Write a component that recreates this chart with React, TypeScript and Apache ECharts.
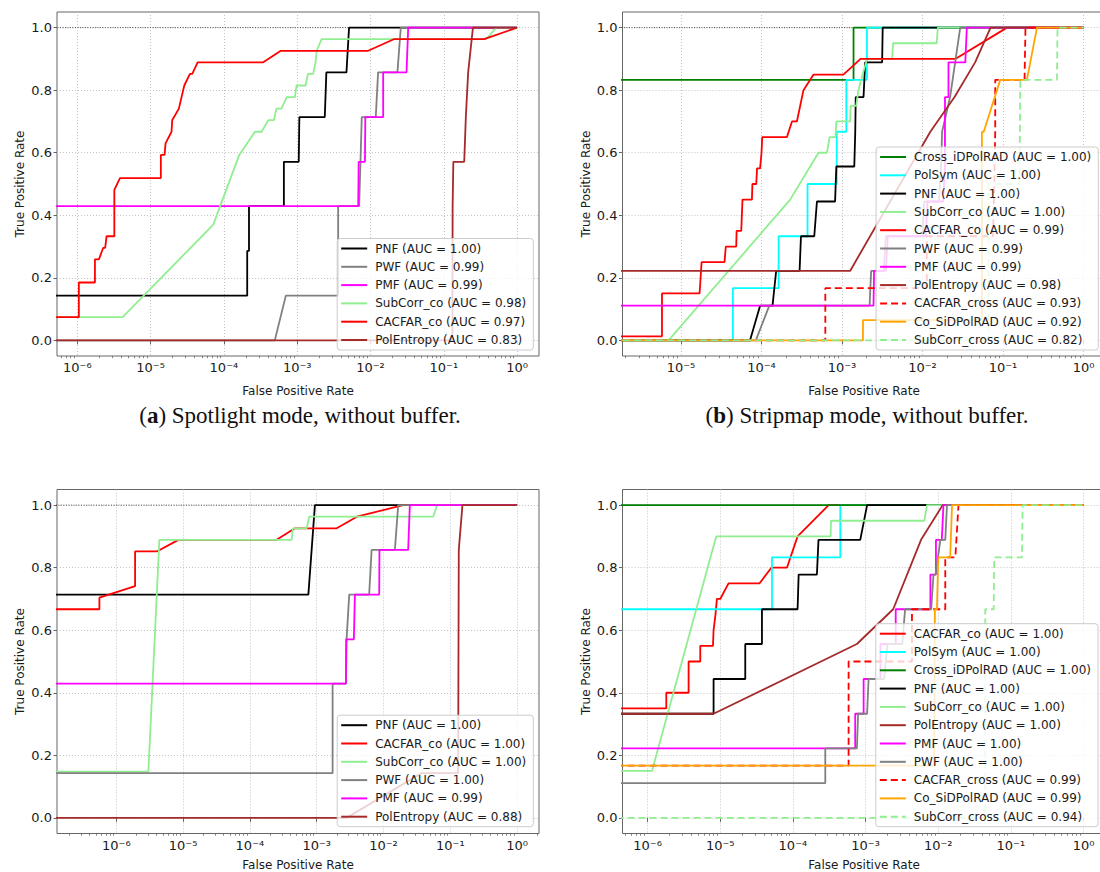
import React, { useEffect, useRef } from 'react';
import * as echarts from 'echarts';

// FPR = 0 cannot sit on a log axis: like matplotlib, it is placed far left and clipped.
const Z = 1e-9;

// ---------- Panel (a): Spotlight mode, without buffer ----------
const A_NAMES = ['PNF', 'PWF', 'PMF', 'SubCorr_co', 'CACFAR_co', 'PolEntropy'];
const A_AUC = ['1.00', '0.99', '0.99', '0.98', '0.97', '0.83'];
const aPNF = [[Z, 0.143], [2.08e-4, 0.143], [2.08e-4, 0.286], [2.2e-4, 0.286], [2.2e-4, 0.429], [6.58e-4, 0.429], [6.58e-4, 0.571], [1.05e-3, 0.571], [1.07e-3, 0.714], [2.38e-3, 0.714], [2.5e-3, 0.857], [4.7e-3, 0.857], [5.1e-3, 1], [1, 1]];
const aPWF = [[Z, 0], [4.95e-4, 0], [7e-4, 0.143], [3.62e-3, 0.143], [3.62e-3, 0.429], [7.0e-3, 0.429], [7.3e-3, 0.571], [7.6e-3, 0.714], [0.0118, 0.714], [0.0127, 0.857], [0.0233, 0.857], [0.0259, 1], [1, 1]];
const aPMF = [[Z, 0.429], [6.8e-3, 0.429], [6.9e-3, 0.571], [8.4e-3, 0.571], [8.5e-3, 0.714], [0.0149, 0.714], [0.0149, 0.857], [0.031, 0.857], [0.0327, 1], [1, 1]];
const aSubCorrCo = [[Z, 0.074], [4.15e-6, 0.074], [7.16e-5, 0.37], [1.62e-4, 0.593], [2.65e-4, 0.667], [3.27e-4, 0.667], [4.03e-4, 0.704], [4.8e-4, 0.704], [5.2e-4, 0.741], [6.1e-4, 0.741], [7.2e-4, 0.778], [9.3e-4, 0.778], [9.8e-4, 0.815], [1.3e-3, 0.815], [1.4e-3, 0.852], [1.65e-3, 0.852], [1.78e-3, 0.889], [1.85e-3, 0.926], [2.15e-3, 0.963], [0.38, 0.963], [0.52, 1], [1, 1]];
const aCACFARco = [[Z, 0.074], [1.05e-6, 0.074], [1.05e-6, 0.185], [1.74e-6, 0.185], [1.74e-6, 0.259], [1.97e-6, 0.259], [2.26e-6, 0.296], [2.4e-6, 0.296], [2.51e-6, 0.333], [3.2e-6, 0.333], [3.2e-6, 0.481], [3.82e-6, 0.519], [1.38e-5, 0.519], [1.38e-5, 0.593], [1.55e-5, 0.593], [1.6e-5, 0.63], [1.93e-5, 0.667], [1.97e-5, 0.704], [2.43e-5, 0.741], [2.88e-5, 0.815], [3.44e-5, 0.852], [3.7e-5, 0.852], [4.38e-5, 0.889], [3.44e-4, 0.889], [5.98e-4, 0.926], [9.29e-3, 0.926], [0.0208, 0.963], [0.355, 0.963], [1, 1]];
const aPolEntropy = [[Z, 0], [0.131, 0], [0.132, 0.429], [0.135, 0.571], [0.19, 0.571], [0.2, 0.714], [0.215, 0.857], [0.25, 1], [1, 1]];
const A_CURVES = [aPNF, aPWF, aPMF, aSubCorrCo, aCACFARco, aPolEntropy];

// ---------- Panel (b): Stripmap mode, without buffer ----------
const B_NAMES = ['Cross_iDPolRAD', 'PolSym', 'PNF', 'SubCorr_co', 'CACFAR_co', 'PWF', 'PMF', 'PolEntropy', 'CACFAR_cross', 'Co_SiDPolRAD', 'SubCorr_cross'];
const B_AUC = ['1.00', '1.00', '1.00', '1.00', '0.99', '0.99', '0.99', '0.98', '0.93', '0.92', '0.82'];
const bCross = [[Z, 0.833], [1.39e-3, 0.833], [1.39e-3, 1], [1, 1]];
const bPolSym = [[Z, 0], [4.41e-5, 0], [4.41e-5, 0.167], [1.63e-4, 0.167], [1.63e-4, 0.333], [3.73e-4, 0.333], [3.73e-4, 0.5], [8.6e-4, 0.5], [8.6e-4, 0.667], [1.13e-3, 0.667], [1.13e-3, 0.833], [2.04e-3, 0.833], [2.04e-3, 1], [1, 1]];
const bPNF = [[Z, 0], [7.2e-5, 0], [9.6e-5, 0.111], [1.37e-4, 0.111], [1.52e-4, 0.222], [2.97e-4, 0.222], [3.09e-4, 0.333], [4.52e-4, 0.333], [4.88e-4, 0.444], [8.2e-4, 0.444], [8.5e-4, 0.556], [1.42e-3, 0.556], [1.46e-3, 0.667], [1.48e-3, 0.778], [1.85e-3, 0.778], [1.94e-3, 0.889], [3.15e-3, 0.889], [3.2e-3, 1], [1, 1]];
const bSubCorrCo = [[Z, 0], [7e-6, 0], [2.27e-4, 0.45], [5.1e-4, 0.6], [6.5e-4, 0.6], [7e-4, 0.65], [8.3e-4, 0.65], [8.5e-4, 0.7], [1.26e-3, 0.7], [1.28e-3, 0.75], [1.5e-3, 0.75], [1.6e-3, 0.8], [1.8e-3, 0.85], [2.05e-3, 0.9], [4.2e-3, 0.9], [4.3e-3, 0.95], [0.015, 0.95], [0.0155, 1], [1, 1]];
const bCACFARco = [[Z, 0.013], [5.8e-6, 0.013], [5.8e-6, 0.15], [1.7e-5, 0.15], [1.75e-5, 0.2], [1.8e-5, 0.25], [3.47e-5, 0.25], [3.6e-5, 0.3], [4.85e-5, 0.3], [4.9e-5, 0.35], [5.6e-5, 0.35], [5.8e-5, 0.45], [7.6e-5, 0.45], [7.7e-5, 0.5], [8.6e-5, 0.5], [8.8e-5, 0.55], [9.6e-5, 0.55], [1.0e-4, 0.6], [1.02e-4, 0.65], [2.07e-4, 0.65], [2.39e-4, 0.7], [2.75e-4, 0.7], [3.32e-4, 0.8], [4.43e-4, 0.85], [1.04e-3, 0.85], [1.7e-3, 0.9], [0.0255, 0.9], [0.112, 1], [1, 1]];
const bPWF = [[Z, 0], [8.5e-5, 0], [1.25e-4, 0.111], [2.2e-3, 0.111], [2.3e-3, 0.222], [3.3e-3, 0.222], [3.5e-3, 0.333], [1.0e-2, 0.333], [1.05e-2, 0.444], [1.6e-2, 0.444], [1.7e-2, 0.556], [1.75e-2, 0.667], [2.2e-2, 0.778], [2.94e-2, 1], [1, 1]];
const bPMF = [[Z, 0.111], [2.46e-3, 0.111], [2.5e-3, 0.222], [3.5e-3, 0.222], [3.7e-3, 0.333], [1.1e-2, 0.333], [1.15e-2, 0.444], [1.8e-2, 0.444], [1.9e-2, 0.556], [1.9e-2, 0.778], [2.1e-2, 0.778], [2.1e-2, 0.889], [3.4e-2, 0.889], [3.55e-2, 1], [1, 1]];
const bPolEntropy = [[Z, 0.222], [1.26e-3, 0.222], [0.0125, 0.667], [0.025, 0.778], [0.045, 0.889], [0.07, 1], [1, 1]];
const bCACFARcross = [[Z, 0], [6.2e-4, 0], [6.2e-4, 0.167], [0.0113, 0.167], [0.0113, 0.333], [0.075, 0.333], [0.078, 0.5], [0.08, 0.667], [0.08, 0.833], [0.185, 0.833], [0.19, 1], [1, 1]];
const bCoSiDPolRAD = [[Z, 0], [1.82e-3, 0], [1.82e-3, 0.065], [0.0547, 0.065], [0.0547, 0.667], [0.0576, 0.667], [0.0923, 0.833], [0.198, 0.833], [0.264, 1], [1, 1]];
const bSubCorrCross = [[Z, 0], [0.066, 0], [0.066, 0.5], [0.16, 0.5], [0.164, 0.833], [0.468, 0.833], [0.475, 1], [1, 1]];
const B_CURVES = [bCross, bPolSym, bPNF, bSubCorrCo, bCACFARco, bPWF, bPMF, bPolEntropy, bCACFARcross, bCoSiDPolRAD, bSubCorrCross];

// ---------- Panel (c): Spotlight mode, with buffer ----------
const C_NAMES = ['PNF', 'CACFAR_co', 'SubCorr_co', 'PWF', 'PMF', 'PolEntropy'];
const C_AUC = ['1.00', '1.00', '1.00', '1.00', '0.99', '0.88'];
const cPNF = [[Z, 0.714], [7.5e-4, 0.714], [9.4e-4, 1], [1, 1]];
const cCACFARco = [[Z, 0.667], [5.58e-7, 0.667], [5.58e-7, 0.704], [1.91e-6, 0.741], [1.91e-6, 0.852], [4.04e-6, 0.852], [8.5e-6, 0.889], [2.51e-4, 0.889], [4.73e-4, 0.926], [1.99e-3, 0.926], [4.0e-3, 0.963], [0.0197, 1], [1, 1]];
const cSubCorrCo = [[Z, 0.148], [3.02e-6, 0.148], [4.41e-6, 0.889], [4.22e-4, 0.889], [4.4e-4, 0.926], [7.08e-4, 0.926], [7.74e-4, 0.963], [0.0554, 0.963], [0.0636, 1], [1, 1]];
const cPWF = [[Z, 0.143], [1.73e-3, 0.143], [1.73e-3, 0.429], [2.74e-3, 0.429], [2.8e-3, 0.571], [3.07e-3, 0.714], [6.1e-3, 0.714], [6.64e-3, 0.857], [0.0148, 0.857], [0.0166, 1], [1, 1]];
const cPMF = [[Z, 0.429], [2.74e-3, 0.429], [2.76e-3, 0.571], [3.6e-3, 0.571], [3.73e-3, 0.714], [8.63e-3, 0.714], [8.7e-3, 0.857], [0.0234, 0.857], [0.0248, 1], [1, 1]];
const cPolEntropy = [[Z, 0], [2.8e-3, 0], [0.037, 0.143], [0.131, 0.143], [0.134, 0.857], [0.152, 1], [1, 1]];
const C_CURVES = [cPNF, cCACFARco, cSubCorrCo, cPWF, cPMF, cPolEntropy];

// ---------- Panel (d): Stripmap mode, with buffer ----------
const D_NAMES = ['CACFAR_co', 'PolSym', 'Cross_iDPolRAD', 'PNF', 'SubCorr_co', 'PolEntropy', 'PMF', 'PWF', 'CACFAR_cross', 'Co_SiDPolRAD', 'SubCorr_cross'];
const D_AUC = ['1.00', '1.00', '1.00', '1.00', '1.00', '1.00', '1.00', '1.00', '0.99', '0.99', '0.94'];
const dCACFARco = [[Z, 0.35], [1.81e-6, 0.35], [1.81e-6, 0.4], [3.67e-6, 0.4], [3.67e-6, 0.5], [5.31e-6, 0.5], [5.31e-6, 0.55], [7.94e-6, 0.55], [8.1e-6, 0.6], [8.6e-6, 0.65], [9.0e-6, 0.7], [1.0e-5, 0.7], [1.3e-5, 0.75], [3.48e-5, 0.75], [5.05e-5, 0.8], [8.28e-5, 0.8], [1.16e-4, 0.9], [3.1e-4, 1], [1, 1]];
const dPolSym = [[Z, 0.667], [5.15e-5, 0.667], [5.15e-5, 0.833], [4.49e-4, 0.833], [4.49e-4, 1], [1, 1]];
const dCross = [[Z, 1], [1, 1]];
const dPNF = [[Z, 0.333], [8.1e-6, 0.333], [8.1e-6, 0.444], [2.21e-5, 0.444], [2.21e-5, 0.556], [3.75e-5, 0.556], [3.75e-5, 0.667], [1.16e-4, 0.667], [1.2e-4, 0.778], [2.14e-4, 0.778], [2.25e-4, 0.889], [8.45e-4, 0.889], [1.05e-3, 1], [1, 1]];
const dSubCorrCo = [[Z, 0.15], [1.15e-6, 0.15], [8.8e-6, 0.9], [3.3e-4, 0.9], [3.35e-4, 0.95], [6.43e-3, 0.95], [7.0e-3, 1], [1, 1]];
const dPolEntropy = [[Z, 0.333], [8.1e-6, 0.333], [7.6e-4, 0.556], [2.4e-3, 0.667], [5.8e-3, 0.889], [0.0115, 1], [1, 1]];
const dPMF = [[Z, 0.222], [7.2e-4, 0.222], [7.2e-4, 0.333], [9.4e-4, 0.333], [9.4e-4, 0.444], [1.6e-3, 0.444], [1.6e-3, 0.556], [2.6e-3, 0.556], [2.6e-3, 0.667], [7.8e-3, 0.667], [7.8e-3, 0.778], [9.3e-3, 0.778], [9.3e-3, 0.889], [0.0112, 0.889], [0.0118, 1], [1, 1]];
const dPWF = [[Z, 0.111], [2.79e-4, 0.111], [2.79e-4, 0.222], [7.6e-4, 0.222], [7.9e-4, 0.333], [1.05e-3, 0.333], [1.1e-3, 0.444], [1.8e-3, 0.444], [2e-3, 0.556], [3.2e-3, 0.556], [3.5e-3, 0.667], [8.0e-3, 0.667], [8.6e-3, 0.778], [9.2e-3, 0.778], [1.07e-2, 0.889], [1.25e-2, 0.889], [1.32e-2, 1], [1, 1]];
const dCACFARcross = [[Z, 0.167], [5.84e-4, 0.167], [5.84e-4, 0.5], [4.35e-3, 0.5], [4.35e-3, 0.667], [0.0125, 0.667], [0.0125, 0.833], [0.0172, 0.833], [0.019, 1], [1, 1]];
const dCoSiDPolRAD = [[Z, 0.167], [8.8e-3, 0.167], [9.0e-3, 0.667], [9.6e-3, 0.667], [1.0e-2, 0.833], [0.0146, 0.833], [0.0155, 1], [1, 1]];
const dSubCorrCross = [[Z, 0], [0.0444, 0], [0.0444, 0.667], [0.058, 0.667], [0.059, 0.833], [0.142, 0.833], [0.145, 1], [1, 1]];
const D_CURVES = [dCACFARco, dPolSym, dCross, dPNF, dSubCorrCo, dPolEntropy, dPMF, dPWF, dCACFARcross, dCoSiDPolRAD, dSubCorrCross];

// Perfect-detection reference (TPR = 1)
const REF_LINE = [[Z, 1], [1, 1]];

// Ticks
const X_MAJOR_A = [1e-6, 1e-5, 1e-4, 1e-3, 1e-2, 1e-1, 1];
const X_MAJOR_B = [1e-5, 1e-4, 1e-3, 1e-2, 1e-1, 1];
const X_MAJOR_C = [1e-6, 1e-5, 1e-4, 1e-3, 1e-2, 1e-1, 1];
const X_MAJOR_D = [1e-6, 1e-5, 1e-4, 1e-3, 1e-2, 1e-1, 1];
const Y_MAJOR = [0, 0.2, 0.4, 0.6, 0.8, 1.0];
const X_MINOR: number[] = [];
for (let e = -8; e <= 0; e++) for (let k = 2; k <= 9; k++) X_MINOR.push(k * Math.pow(10, e));

// Axis limits (log10 exponents of the x range)
const X_LIMITS = [[-6.277, 0.299], [-5.727, 0.273], [-6.888, 0.328], [-6.345, 0.302]];

const CAPTIONS = ['Spotlight mode, without buffer.', 'Stripmap mode, without buffer.'];
const CAPTION_LETTERS = ['a', 'b'];

// ---------- styles ----------
const STYLE: Record<string, { color: string; dashed?: boolean }> = {
  PNF: { color: '#000000' },
  PWF: { color: '#808080' },
  PMF: { color: '#ff00ff' },
  SubCorr_co: { color: '#90ee90' },
  CACFAR_co: { color: '#ff0000' },
  PolEntropy: { color: '#a52a2a' },
  Cross_iDPolRAD: { color: '#008000' },
  PolSym: { color: '#00ffff' },
  CACFAR_cross: { color: '#ff0000', dashed: true },
  Co_SiDPolRAD: { color: '#ffa500' },
  SubCorr_cross: { color: '#90ee90', dashed: true },
};

const FONT = 'DejaVu Sans';
const TXT = '#1a1a1a';
const SPINE = '#666666';

const PANELS = [
  { names: A_NAMES, auc: A_AUC, curves: A_CURVES, ticks: X_MAJOR_A, lim: X_LIMITS[0], nameGap: 29, grid: { left: 57, top: 12, width: 482, height: 344 }, legend: { right: 566.7, bottom: 522 } },
  { names: B_NAMES, auc: B_AUC, curves: B_CURVES, ticks: X_MAJOR_B, lim: X_LIMITS[1], nameGap: 29, grid: { left: 622.5, top: 12, width: 483, height: 344 }, legend: { right: 1.7, bottom: 522 } },
  { names: C_NAMES, auc: C_AUC, curves: C_CURVES, ticks: X_MAJOR_C, lim: X_LIMITS[2], nameGap: 25, grid: { left: 57, top: 489.5, width: 482, height: 344 }, legend: { right: 566.7, bottom: 45.3 } },
  { names: D_NAMES, auc: D_AUC, curves: D_CURVES, ticks: X_MAJOR_D, lim: X_LIMITS[3], nameGap: 25, grid: { left: 622.5, top: 489.5, width: 483, height: 344 }, legend: { right: 2, bottom: 45.3 } },
];

const SUP: Record<string, string> = { '-': '⁻', '0': '⁰', '1': '¹', '2': '²', '3': '³', '4': '⁴', '5': '⁵', '6': '⁶', '7': '⁷', '8': '⁸', '9': '⁹' };
const powLabel = (v: number) => {
  const e = Math.round(Math.log10(v));
  return '10' + String(e).split('').map((c) => SUP[c]).join('');
};

const gridLine = { show: true, lineStyle: { color: '#bdbdbd', width: 0.9, type: [1, 2] as any } };

function buildOption() {
  const grid = PANELS.map((p) => ({
    ...p.grid,
    show: true,
    borderColor: SPINE,
    borderWidth: 1,
    backgroundColor: 'transparent',
    containLabel: false,
    outerBoundsMode: 'none',
  }));
  const majorX = PANELS.map((p, i) => ({
    type: 'log',
    logBase: 10,
    gridIndex: i,
    position: 'bottom',
    min: Math.pow(10, p.lim[0]),
    max: Math.pow(10, p.lim[1]),
    name: 'False Positive Rate',
    nameLocation: 'middle',
    nameGap: p.nameGap,
    nameTextStyle: { fontFamily: FONT, fontSize: 12, color: TXT },
    axisLine: { show: false },
    axisTick: { show: true, length: 4, customValues: p.ticks, lineStyle: { color: SPINE, width: 1 } },
    axisLabel: { customValues: p.ticks, formatter: (v: number) => powLabel(v), margin: 5, fontFamily: FONT, fontSize: 13, color: TXT },
    splitLine: gridLine,
    minorTick: { show: false },
    minorSplitLine: { show: false },
  }));
  const minorX = PANELS.map((p, i) => ({
    type: 'log',
    logBase: 10,
    gridIndex: i,
    position: 'bottom',
    min: Math.pow(10, p.lim[0]),
    max: Math.pow(10, p.lim[1]),
    axisLine: { show: false },
    axisTick: { show: true, length: 2.2, customValues: X_MINOR, lineStyle: { color: SPINE, width: 0.8 } },
    axisLabel: { show: false },
    splitLine: { show: false },
  }));
  const yAxis = PANELS.map((p, i) => ({
    type: 'value',
    gridIndex: i,
    min: -0.05,
    max: 1.05,
    name: 'True Positive Rate',
    nameLocation: 'middle',
    nameGap: 31,
    nameTextStyle: { fontFamily: FONT, fontSize: 12, color: TXT },
    axisLine: { show: false },
    axisTick: { show: true, length: 3.5, customValues: Y_MAJOR, lineStyle: { color: SPINE, width: 1 } },
    axisLabel: { customValues: Y_MAJOR, formatter: (v: number) => v.toFixed(1), margin: 5, fontFamily: FONT, fontSize: 13, color: TXT },
    splitLine: gridLine,
  }));

  const series: any[] = [];
  PANELS.forEach((p, i) => {
    series.push({
      type: 'line',
      xAxisIndex: i,
      yAxisIndex: i,
      data: REF_LINE,
      symbol: 'none',
      silent: true,
      z: 1,
      lineStyle: { color: '#222', width: 0.8, type: [1, 1.5] },
    });
    p.names.forEach((nm, j) => {
      const st = STYLE[nm];
      series.push({
        type: 'line',
        name: `${nm} (AUC = ${p.auc[j]})`,
        xAxisIndex: i,
        yAxisIndex: i,
        data: p.curves[j],
        symbol: 'none',
        showSymbol: false,
        silent: true,
        z: 2,
        itemStyle: { color: st.color },
        lineStyle: { color: st.color, width: 1.8, type: st.dashed ? [7, 4] : 'solid' },
        emphasis: { disabled: true },
      });
    });
  });

  const legend = PANELS.map((p) => ({
    data: p.names.map((nm, j) => `${nm} (AUC = ${p.auc[j]})`),
    orient: 'vertical',
    align: 'left',
    right: p.legend.right,
    bottom: p.legend.bottom,
    itemWidth: 26,
    itemHeight: 12,
    itemGap: 6.3,
    padding: [4, 7, 4, 3],
    backgroundColor: 'rgba(255,255,255,0.8)',
    borderColor: '#cccccc',
    borderWidth: 1,
    borderRadius: 3,
    selectedMode: false,
    itemStyle: { opacity: 0, borderWidth: 0 },
    textStyle: { fontFamily: FONT, fontSize: 12, color: TXT, lineHeight: 12, padding: [0, 0, 0, 3] },
  }));

  const capX = [300, 867];
  const graphic = CAPTIONS.map((c, i) => ({
    type: 'text',
    x: capX[i],
    y: 415,
    style: {
      text: `({b|${CAPTION_LETTERS[i]}}) ${c}`,
      fontFamily: 'Liberation Serif',
      fontSize: 23,
      fill: '#111',
      align: 'center',
      verticalAlign: 'middle',
      rich: { b: { fontFamily: 'Liberation Serif', fontSize: 23, fontWeight: 'bold', fill: '#111' } },
    },
  }));

  return {
    animation: false,
    backgroundColor: '#ffffff',
    textStyle: { fontFamily: FONT },
    grid,
    xAxis: [...majorX, ...minorX],
    yAxis,
    legend,
    series,
    graphic,
  };
}

export default function App() {
  const ref = useRef<HTMLDivElement>(null);
  useEffect(() => {
    if (!ref.current) return;
    const chart = echarts.init(ref.current, undefined, { renderer: 'svg' });
    chart.setOption(buildOption() as any);
    return () => chart.dispose();
  }, []);
  return <div ref={ref} style={{ position: 'absolute', left: 0, top: 0, width: 1100, height: 872 }} />;
}
